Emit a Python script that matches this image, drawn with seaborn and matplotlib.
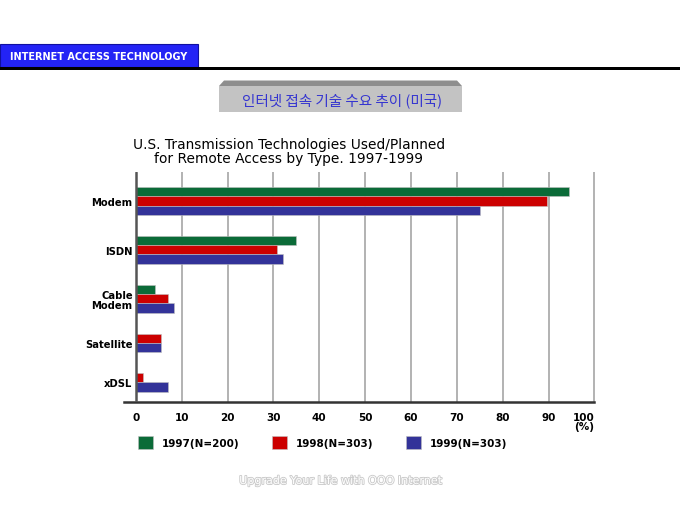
import numpy as np
import pandas as pd
import matplotlib
matplotlib.use('Agg')
import matplotlib.pyplot as plt
import matplotlib.patheffects as pe
from matplotlib.patches import Rectangle, Polygon
import seaborn as sns

# data (percent)
techs = ['Modem', 'ISDN', 'Cable\nModem', 'Satellite', 'xDSL']
years = ['1997(N=200)', '1998(N=303)', '1999(N=303)']
v1997 = [94.5, 35.0, 4.3, None, None]
v1998 = [89.7, 30.7, 7.0, 5.6, 1.5]
v1999 = [75.1, 32.1, 8.4, 5.6, 7.1]
colors = ['#0b6b38', '#cc0000', '#333399']

# one slot per bar, gap between technologies
gap = 2.25
rows = []
centers = []
pos = 0.0
for i, t in enumerate(techs):
    first = pos
    for yr, vals in zip(years, [v1997, v1998, v1999]):
        if vals[i] is None:
            continue
        rows.append({'tech': t, 'year': yr, 'value': vals[i], 'pos': pos})
        pos += 1
    centers.append((first + pos - 1) / 2)
    pos += gap
df = pd.DataFrame(rows)

sns.set_style('white')
plt.rcParams['font.family'] = ['DejaVu Sans']
plt.rcParams['text.color'] = 'black'
plt.rcParams['xtick.color'] = 'black'
plt.rcParams['ytick.color'] = 'black'

W, H = 680, 510
fig = plt.figure(figsize=(6.8, 5.1), dpi=100)


def fx(x):
    return x / W


def fy(y):
    return 1 - y / H


# header bar
fig.add_artist(Rectangle((0, fy(68)), fx(198), fy(45) - fy(68), transform=fig.transFigure,
                         facecolor='#2323f5', edgecolor='#1010a0', lw=0.8))
fig.add_artist(Rectangle((0, fy(70.5)), 1, fy(67.5) - fy(70.5), transform=fig.transFigure,
                         facecolor='black', edgecolor='none'))
fig.text(fx(98.5), fy(57), 'INTERNET ACCESS TECHNOLOGY', color='white', fontsize=7.0,
         fontweight='bold', ha='center', va='center')

# korean subtitle box
fig.add_artist(Polygon([(fx(219), fy(87)), (fx(462), fy(87)), (fx(457), fy(81.5)), (fx(224), fy(81.5))],
                       closed=True, transform=fig.transFigure, facecolor='#8e8e8e', edgecolor='none'))
fig.add_artist(Rectangle((fx(219), fy(113)), fx(462) - fx(219), fy(87) - fy(113),
                         transform=fig.transFigure, facecolor='#c3c3c3', edgecolor='none'))
fig.text(fx(342), fy(101), '인터넷 접속 기술 수요 추이 (미국)', color='#3535d0', fontsize=10.5,
         ha='center', va='center', family=['Noto Sans CJK KR', 'DejaVu Sans'])

# chart title
fig.text(fx(289), fy(152.5), 'U.S. Transmission Technologies Used/Planned\nfor Remote Access by Type. 1997-1999',
         fontsize=9.9, ha='center', va='center', multialignment='center', linespacing=1.0)

ax = fig.add_axes([fx(124.3), fy(403), fx(596.3) - fx(124.3), fy(173) - fy(403)])
sns.barplot(data=df, x='value', y='pos', hue='year', hue_order=years, palette=colors,
            orient='h', native_scale=True, dodge=False, width=1.0, errorbar=None,
            saturation=1, edgecolor='#c0c0c0', linewidth=0.4, ax=ax)

ax.set_xlim(-2.5, 100.4)
ax.set_ylim(22.6, -2.1)
ax.set_xticks(np.arange(0, 101, 10))
xt = [str(v) for v in range(0, 100, 10)] + ['100\n(%)']
ax.set_xticklabels(xt, fontsize=7.5, fontweight='bold', linespacing=0.95)
lab = ax.get_xticklabels()[-1]
lab.set_ha('right')
lab.set_multialignment('right')
ax.set_yticks(centers)
ax.set_yticklabels(techs, fontsize=7.2, fontweight='bold', linespacing=1.0)
ax.tick_params(axis='x', length=0, pad=7)
ax.tick_params(axis='y', length=0, pad=-6)
ax.set_xlabel('')
ax.set_ylabel('')

for v in range(10, 101, 10):
    ax.axvline(v, color='#b2b2b2', lw=1.4, zorder=0)
ax.axvline(0, color='#555555', lw=1.8, zorder=3)
for s in ['top', 'right', 'left']:
    ax.spines[s].set_visible(False)
ax.spines['bottom'].set_color('#333333')
ax.spines['bottom'].set_linewidth(1.8)
ax.spines['bottom'].set_bounds(-2.5, 100)

sns.move_legend(ax, 'upper left', bbox_to_anchor=(fx(138), fy(437.5)), bbox_transform=fig.transFigure,
                ncol=3, frameon=False, title=None, prop={'weight': 'bold', 'size': 7.5},
                handlelength=1.45, handleheight=1.45, handletextpad=0.85, columnspacing=3.1,
                borderpad=0, borderaxespad=0)

# footer
fig.text(fx(341), fy(482), 'Upgrade Your Life with OOO Internet', color='white', fontsize=8,
         ha='center', va='center',
         path_effects=[pe.withStroke(linewidth=1.3, foreground='#cccccc')])

fig.savefig('out.png', dpi=100)
